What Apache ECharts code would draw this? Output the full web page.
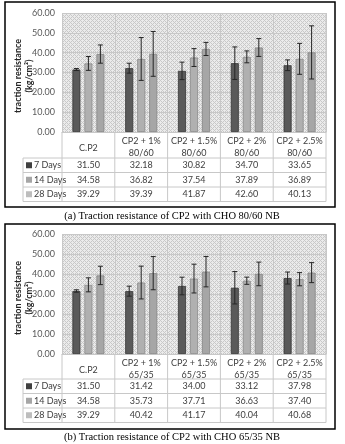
<!DOCTYPE html>
<html>
<head>
<meta charset="utf-8">
<script src="https://cdn.jsdelivr.net/npm/echarts@6/dist/echarts.min.js"></script>
<style>
  html, body { margin: 0; padding: 0; background: #fff; }
  #chart { width: 345px; height: 444px; }
</style>
</head>
<body>
<div id="chart"></div>
<script>
// ---- data ----
const dayNames = ['7 Days', '14 Days', '28 Days'];
const catsA = ['C.P2', 'CP2 + 1%\n80/60', 'CP2 + 1.5%\n80/60', 'CP2 + 2%\n80/60', 'CP2 + 2.5%\n80/60'];
const catsB = ['C.P2', 'CP2 + 1%\n65/35', 'CP2 + 1.5%\n65/35', 'CP2 + 2%\n65/35', 'CP2 + 2.5%\n65/35'];

const a7 = [31.50, 32.18, 30.82, 34.70, 33.65];
const a14 = [34.58, 36.82, 37.54, 37.89, 36.89];
const a28 = [39.29, 39.39, 41.87, 42.60, 40.13];
const a7Err = [0.5, 2.5, 4.4, 8.2, 2.7];
const a14Err = [3.5, 10.8, 4.5, 3.0, 7.8];
const a28Err = [4.6, 11.3, 3.3, 4.5, 13.4];

const b7 = [31.50, 31.42, 34.00, 33.12, 37.98];
const b14 = [34.58, 35.73, 37.71, 36.63, 37.40];
const b28 = [39.29, 40.42, 41.17, 40.04, 40.68];
const b7Err = [0.6, 2.5, 4.4, 8.1, 3.0];
const b14Err = [3.5, 8.2, 7.2, 1.8, 3.3];
const b28Err = [4.6, 8.3, 7.6, 5.9, 5.0];

const yTicks = { min: 0, max: 60, interval: 10 };
const captionA = '(a) Traction resistance of CP2 with CHO 80/60 NB';
const captionB = '(b) Traction resistance of CP2 with CHO 65/35 NB';

// ---- look ----
const barColors = ['#5a5a5a', '#b0b0b0', '#a6a6a6'];
const barBorders = ['#363636', '#8a8a8a', '#858585'];
const legendColors = ['#404040', '#a6a6a6', '#bdbdbd'];
const lineColor = '#c8c8c8';
const textColor = '#404040';
const font = 'Lato, "Open Sans", sans-serif';

// hatched plot background
const pat = document.createElement('canvas');
pat.width = 4; pat.height = 4;
const pctx = pat.getContext('2d');
pctx.fillStyle = '#ebebeb';
pctx.fillRect(0, 0, 4, 4);
pctx.fillStyle = '#c8c8c8';
[[0, 0], [1, 1], [2, 2], [3, 3], [3, 1], [1, 3]].forEach(([x, y]) => pctx.fillRect(x, y, 1, 1));

const plotL = 62, plotW = 264, plotR = plotL + plotW;
const panels = [
  { top: 13, h: 119, rows: [158, 172.5, 187, 201.5], box: [5, 2, 330, 205], cap: 216, nameY: 76,
    cats: catsA, vals: [a7, a14, a28], errs: [a7Err, a14Err, a28Err], caption: captionA },
  { top: 234, h: 120, rows: [379, 393.5, 408, 422.5], box: [5, 224, 330, 205], cap: 437, nameY: 298,
    cats: catsB, vals: [b7, b14, b28], errs: [b7Err, b14Err, b28Err], caption: captionB },
];

const grids = [], xAxes = [], yAxes = [], series = [], graphics = [];
const offsets = [-12, 0, 12];

panels.forEach((p, gi) => {
  grids.push({
    left: plotL, top: p.top, width: plotW, height: p.h,
    show: true, borderWidth: 0,
    backgroundColor: { image: pat, repeat: 'repeat' },
  });
  xAxes.push({
    type: 'category', gridIndex: gi,
    // single-line names sit in the middle of the two-line row
    data: p.cats.map((c) => (c.includes('\n') ? c : { value: c, textStyle: { padding: [7, 0, 0, 0] } })),
    axisLine: { lineStyle: { color: lineColor } },
    axisTick: { show: false },
    splitLine: { show: true, lineStyle: { color: lineColor } },
    axisLabel: {
      color: textColor, fontSize: 9, fontFamily: font, lineHeight: 12,
      margin: 3, interval: 0,
    },
  });
  yAxes.push({
    type: 'value', gridIndex: gi, ...yTicks,
    axisLine: { show: false }, axisTick: { show: false },
    axisLabel: { color: '#595959', fontSize: 9, fontFamily: font, margin: 7,
      formatter: (v) => v.toFixed(2) },
    splitLine: { lineStyle: { color: lineColor } },
  });

  p.vals.forEach((vals, si) => {
    series.push({
      type: 'bar', name: dayNames[si], xAxisIndex: gi, yAxisIndex: gi,
      data: vals, barWidth: 8, barGap: '50%',
      itemStyle: { color: barColors[si], borderColor: barBorders[si], borderWidth: 0.8 },
    });
  });
  p.vals.forEach((vals, si) => {
    const off = offsets[si];
    const errs = p.errs[si];
    series.push({
      type: 'custom', xAxisIndex: gi, yAxisIndex: gi, z: 5,
      encode: { x: 0, y: 1 },
      data: vals.map((v, i) => [i, v, errs[i]]),
      renderItem: (params, api) => {
        const i = api.value(0), v = api.value(1), e = api.value(2);
        const hi = api.coord([i, v + e]);
        const lo = api.coord([i, v - e]);
        const x = hi[0] + off;
        const st = { stroke: '#262626', lineWidth: 1 };
        return {
          type: 'group',
          children: [
            { type: 'line', shape: { x1: x, y1: hi[1], x2: x, y2: lo[1] }, style: st },
            { type: 'line', shape: { x1: x - 2.5, y1: hi[1], x2: x + 2.5, y2: hi[1] }, style: st },
            { type: 'line', shape: { x1: x - 2.5, y1: lo[1], x2: x + 2.5, y2: lo[1] }, style: st },
          ],
        };
      },
    });
  });

  // table lines
  const zeroY = p.top + p.h;
  const bottom = p.rows[p.rows.length - 1];
  const cw = plotW / p.cats.length;
  const lineStyle = { stroke: lineColor, lineWidth: 1 };
  p.rows.forEach((y) => {
    graphics.push({ type: 'line', shape: { x1: 23, y1: y, x2: plotR, y2: y }, style: lineStyle });
  });
  graphics.push({ type: 'line', shape: { x1: 23, y1: p.rows[0], x2: 23, y2: bottom }, style: lineStyle });
  for (let k = 0; k <= p.cats.length; k++) {
    const x = plotL + k * cw;
    graphics.push({ type: 'line', shape: { x1: x, y1: zeroY, x2: x, y2: bottom }, style: lineStyle });
  }
  graphics.push({ type: 'line', shape: { x1: plotR, y1: p.top, x2: plotR, y2: zeroY }, style: lineStyle });

  // table rows
  p.vals.forEach((vals, si) => {
    const yc = (p.rows[si] + p.rows[si + 1]) / 2;
    graphics.push({ type: 'rect', shape: { x: 26, y: yc - 3, width: 6, height: 6 },
      style: { fill: legendColors[si] } });
    graphics.push({ type: 'text', x: 34, y: yc,
      style: { text: dayNames[si], fill: textColor, font: '9px ' + font, verticalAlign: 'middle' } });
    vals.forEach((v, i) => {
      graphics.push({ type: 'text', x: plotL + (i + 0.5) * cw, y: yc,
        style: { text: v.toFixed(2), fill: textColor, font: '9px ' + font,
          align: 'center', verticalAlign: 'middle' } });
    });
  });

  // y axis name
  graphics.push({ type: 'text', x: 18, y: p.nameY, rotation: Math.PI / 2,
    style: { text: 'traction resistance', fill: '#262626', font: 'bold 9px ' + font,
      align: 'center', verticalAlign: 'middle' } });
  graphics.push({ type: 'text', x: 29, y: p.nameY, rotation: Math.PI / 2,
    style: { text: '(kg/cm²)', fill: '#262626', font: 'bold 9px ' + font,
      align: 'center', verticalAlign: 'middle' } });

  // frame and caption
  graphics.push({ type: 'rect', shape: { x: p.box[0], y: p.box[1], width: p.box[2], height: p.box[3] },
    style: { fill: 'none', stroke: '#000', lineWidth: 1.5 } });
  graphics.push({ type: 'text', x: 172, y: p.cap,
    style: { text: p.caption, fill: '#000', font: '10.5px "Liberation Serif", serif',
      align: 'center', verticalAlign: 'middle' } });
});

const chart = echarts.init(document.getElementById('chart'));
chart.setOption({
  animation: false,
  grid: grids,
  xAxis: xAxes,
  yAxis: yAxes,
  series,
  graphic: graphics,
});
</script>
</body>
</html>
